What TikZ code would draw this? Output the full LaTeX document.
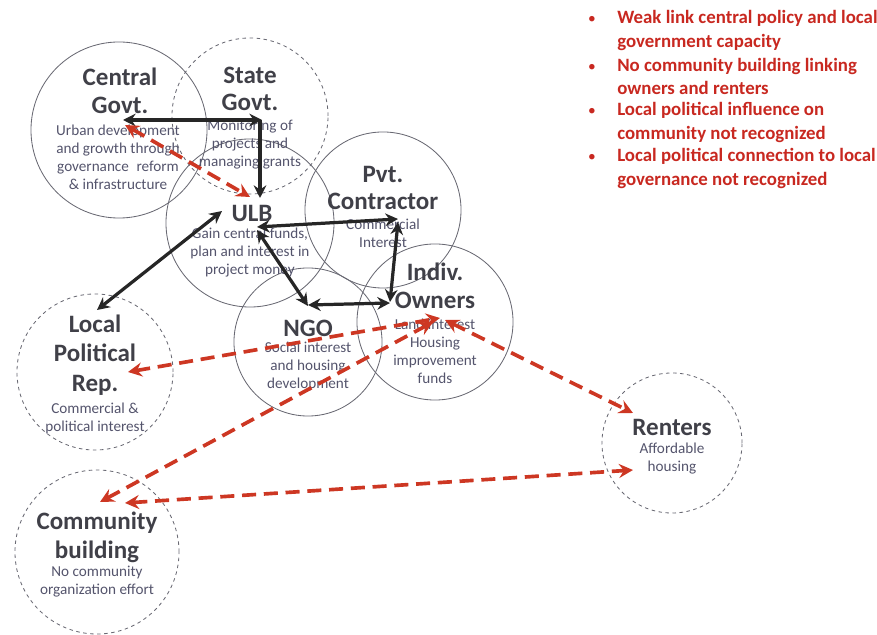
\documentclass[tikz,border=0pt]{standalone}
\usepackage{fontspec}
\setmainfont{Carlito}
\usepackage{xcolor}
\usepackage{tikz}
\usetikzlibrary{arrows.meta, calc}

\definecolor{inkgray}{RGB}{64,64,72}
\definecolor{notegray}{RGB}{84,84,108}
\definecolor{rimgray}{RGB}{105,105,115}
\definecolor{gapred}{RGB}{205,55,35}
\definecolor{listred}{RGB}{200,40,32}

\begin{document}
\begin{tikzpicture}[
    x=0.025cm, y=-0.025cm,
    actor/.style={draw=rimgray, line width=0.6pt, circle, inner sep=0pt},
    weak/.style={actor, dash pattern=on 2.5pt off 2.5pt},
    title/.style={font=\fontsize{17.8}{19.5}\selectfont\bfseries, text=inkgray, align=center, inner sep=1pt},
    note/.style={font=\fontsize{10.8}{12.8}\selectfont, text=notegray, align=center, inner sep=1pt},
    link/.style={{Stealth[length=9pt,width=9pt,inset=3pt]}-{Stealth[length=9pt,width=9pt,inset=3pt]}, line width=2.3pt, black!85},
    feed/.style={-{Stealth[length=9pt,width=9pt,inset=3pt]}, line width=2.3pt, black!85},
    gap/.style={{Stealth[length=10pt,width=10pt,inset=3.5pt]}-{Stealth[length=10pt,width=10pt,inset=3.5pt]}, line width=2.6pt, gapred, dash pattern=on 10pt off 5.5pt},
    issue/.style={font=\fontsize{13.4}{16.4}\selectfont\bfseries, text=listred, align=left, anchor=west, inner sep=0pt},
    dot/.style={font=\fontsize{11}{11}\selectfont, text=listred, inner sep=0pt, anchor=base}
]
\useasboundingbox (0,0) rectangle (877,635);

% 1. Actors (circle centres in pixels)
\node[actor, minimum size=8.8cm*0.5] (central) at (119,130) {};
\node[weak, minimum size=7.8cm*0.5] (state) at (250,116) {};
\node[actor, minimum size=8.4cm*0.5] (ulb) at (250,223) {};
\node[actor, minimum size=7.8cm*0.5] (pvt) at (383,210) {};
\node[actor, minimum size=7.8cm*0.5] (owners) at (435,322) {};
\node[actor, minimum size=7.4cm*0.5] (ngo) at (308,342) {};
\node[weak, minimum size=7.8cm*0.5] (localrep) at (95,372) {};
\node[weak, minimum size=8.2cm*0.5] (community) at (97,552) {};
\node[weak, minimum size=7.0cm*0.5] (renters) at (672,443) {};

% 2. Names and interests
\node[title] (centralt) at (120,91) {Central\\Govt.};
\node[note] (centraln) at (118,157) {Urban development\\and growth through\\governance\enspace reform\\\& infrastructure};
\node[title] (statet) at (250,89) {State\\Govt.};
\node[note] (staten) at (250,145) {Monitoring of\\projects and\\managing grants};
\node[title] (ulbt) at (252,213) {ULB};
\node[note] (ulbn) at (250,253) {Gain central funds,\\plan and interest in\\project money};
\node[title] (pvtt) at (383,188) {Pvt.\\Contractor};
\node[note] (pvtn) at (383,233) {Commercial\\Interest};
\node[title] (ownerst) at (435,286) {Indiv.\\Owners};
\node[note] (ownersn) at (435,351) {Land interest\\Housing\\improvement\\funds};
\node[title] (ngot) at (308,328) {NGO};
\node[note] (ngon) at (308,366) {Social interest\\and housing\\development};
\node[title, font=\fontsize{17.8}{21}\selectfont\bfseries] (localrept) at (95,355) {Local\\Political\\Rep.};
\node[note] (localrepn) at (95,418) {Commercial \&\\political interest};
\node[title, font=\fontsize{17.8}{20.5}\selectfont\bfseries] (communityt) at (97,537) {Community\\building};
\node[note] (communityn) at (97,582) {No community\\organization effort};
\node[title] (renterst) at (672,427) {Renters};
\node[note] (rentersn) at (672,459) {Affordable\\housing};

% 3. Working links
\draw[link] ([shift={(4,-10)}]central.center) -- ([shift={(12,4)}]state.center);
\draw[feed] ([shift={(10,4)}]state.center) -- ([shift={(10,-25)}]ulb.center);
\draw[link] ([shift={(2,-62)}]localrep.center) -- ([shift={(-28,-12)}]ulb.center);
\draw[link] ([shift={(7,4)}]ulb.center) -- ([shift={(15,9)}]pvt.center);
\draw[link] ([shift={(15,12)}]pvt.center) -- ([shift={(-45,-20)}]owners.center);
\draw[link] ([shift={(7,7)}]ulb.center) -- ([shift={(0,-36)}]ngo.center);
\draw[link] ([shift={(0,-37)}]ngo.center) -- ([shift={(-45,-19)}]owners.center);

% 4. Weak or missing links
\draw[gap] ([shift={(6,-5)}]central.center) -- ([shift={(0,-26)}]ulb.center);
\draw[gap] ([shift={(33,0)}]localrep.center) -- ([shift={(5,-4)}]owners.center);
\draw[gap] ([shift={(3,-50)}]community.center) -- ([shift={(-2,0)}]owners.center);
\draw[gap] ([shift={(10,-2)}]owners.center) -- ([shift={(-39,-30)}]renters.center);
\draw[gap] ([shift={(28,-49)}]community.center) -- ([shift={(-39,27)}]renters.center);

% 5. Findings
\node[issue] (issue1) at (617,30.5) {Weak link central policy and local\\government capacity};
\node[issue] (issue2) at (617,76.5) {No community building linking\\owners and renters};
\node[issue] (issue3) at (617,122.5) {Local political influence on\\community not recognized};
\node[issue] (issue4) at (617,168.5) {Local political connection to local\\governance not recognized};
\node[dot] (dot1) at ([shift={(-25,13.5)}]issue1.north west) {•};
\node[dot] (dot2) at ([shift={(-25,13.5)}]issue2.north west) {•};
\node[dot] (dot3) at ([shift={(-25,13.5)}]issue3.north west) {•};
\node[dot] (dot4) at ([shift={(-25,13.5)}]issue4.north west) {•};

\end{tikzpicture}
\end{document}
